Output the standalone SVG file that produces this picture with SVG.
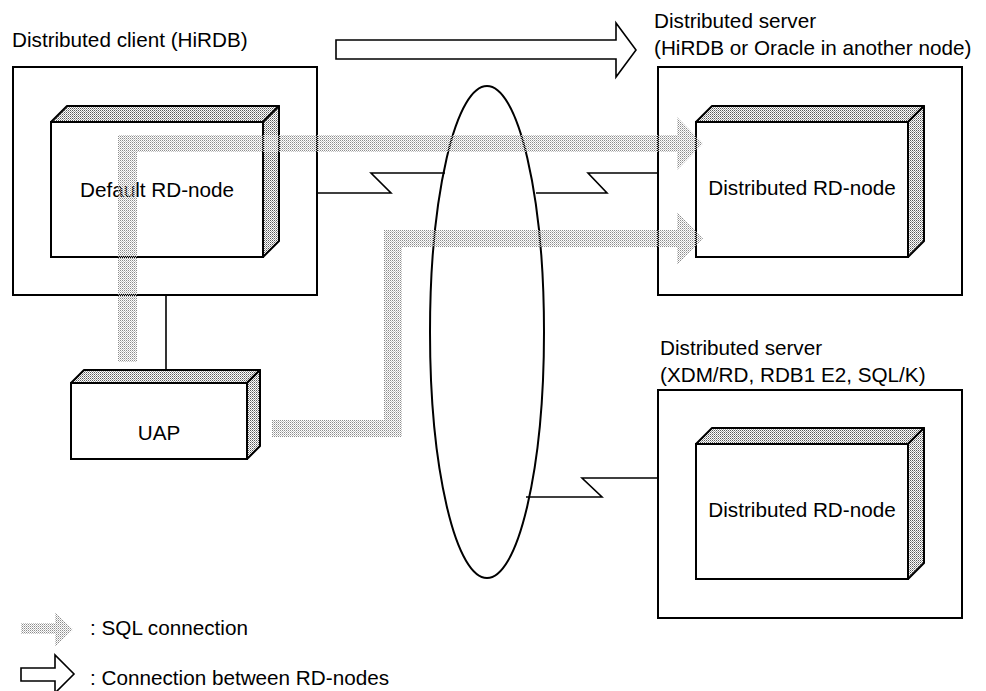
<svg xmlns="http://www.w3.org/2000/svg" width="986" height="691" viewBox="0 0 986 691">
  <defs>
    <!-- stipple used for the SQL connection bands -->
    <pattern id="sqlDots" width="2" height="2" patternUnits="userSpaceOnUse">
      <rect x="0" y="0" width="1" height="1" fill="#8c8c8c"/>
      <rect x="1" y="1" width="1" height="1" fill="#c4c4c4"/>
    </pattern>
    <!-- stipple used for the shaded faces of the 3-D node boxes -->
    <pattern id="faceDots" width="2" height="2" patternUnits="userSpaceOnUse">
      <rect x="0" y="0" width="2" height="2" fill="#ffffff"/>
      <rect x="0" y="0" width="1" height="1" fill="#5a5a5a"/>
      <rect x="1" y="1" width="1" height="1" fill="#a0a0a0"/>
    </pattern>
    <style>
      .frame { fill: #ffffff; stroke: #000000; stroke-width: 2; }
      .front { fill: #ffffff; stroke: #000000; stroke-width: 2; }
      .face { fill: url(#faceDots); stroke: #000000; stroke-width: 2; stroke-linejoin: round; }
      .wire { fill: none; stroke: #000000; stroke-width: 1.6; }
      .net { fill: none; stroke: #000000; stroke-width: 2; }
      .sql { fill: url(#sqlDots); stroke: none; }
      .hollow { fill: #ffffff; stroke: #000000; stroke-width: 1.6; stroke-linejoin: miter; }
      text { font-family: "Liberation Sans", Arial, sans-serif; font-size: 20.7px; fill: #000000; }
      .mid { text-anchor: middle; }
    </style>
  </defs>

  <rect width="986" height="691" fill="#ffffff"/>

  <!-- distributed client frame -->
  <g id="client">
    <text x="12" y="47">Distributed client (HiRDB)</text>
    <rect class="frame" x="13" y="67" width="304" height="228"/>
  </g>

  <!-- default RD-node inside the client -->
  <g id="default-rd-node">
    <polygon class="face" points="51,122 67,106 279,106 263,122"/>
    <polygon class="face" points="263,122 279,106 279,241 263,257"/>
    <rect class="front" x="51" y="122" width="212" height="135"/>
    <text class="mid" x="157" y="197">Default RD-node</text>
  </g>

  <!-- application program -->
  <g id="uap">
    <polygon class="face" points="71,383 84,370 260,370 247,383"/>
    <polygon class="face" points="247,383 260,370 260,446 247,459"/>
    <rect class="front" x="71" y="383" width="176" height="76"/>
    <text class="mid" x="159" y="440">UAP</text>
  </g>

  <!-- network -->
  <g id="network">
    <ellipse class="net" cx="487" cy="332" rx="57" ry="246"/>
  </g>

  <!-- distributed server (HiRDB / Oracle) -->
  <g id="server-hirdb">
    <text x="654" y="28">Distributed server</text>
    <text x="654" y="55">(HiRDB or Oracle in another node)</text>
    <rect class="frame" x="658" y="67" width="304" height="228"/>
  </g>
  <g id="server-hirdb-node">
    <polygon class="face" points="696,122 712,106 924,106 908,122"/>
    <polygon class="face" points="908,122 924,106 924,241 908,257"/>
    <rect class="front" x="696" y="122" width="212" height="135"/>
    <text class="mid" x="802" y="195">Distributed RD-node</text>
  </g>

  <!-- distributed server (XDM/RD, RDB1 E2, SQL/K) -->
  <g id="server-xdm">
    <text x="660" y="355">Distributed server</text>
    <text x="660" y="382">(XDM/RD, RDB1 E2, SQL/K)</text>
    <rect class="frame" x="658" y="390" width="304" height="228"/>
  </g>
  <g id="server-xdm-node">
    <polygon class="face" points="696,444 712,428 924,428 908,444"/>
    <polygon class="face" points="908,444 924,428 924,563 908,579"/>
    <rect class="front" x="696" y="444" width="212" height="135"/>
    <text class="mid" x="802" y="517">Distributed RD-node</text>
  </g>

  <!-- connectors -->
  <g id="connectors">
    <!-- client to UAP -->
    <line class="wire" x1="166" y1="295" x2="166" y2="370"/>
    <!-- communication lines across the network -->
    <polyline class="wire" points="317,193 391,193 371,173 445,173"/>
    <polyline class="wire" points="536,193 607,193 588,173 658,173"/>
    <polyline class="wire" points="526,497 602,497 582,478 658,478"/>

    <!-- SQL connection: UAP through default RD-node to distributed RD-node -->
    <path class="sql" d="M118,362 L118,135 L677,135 L677,117 L703,143.5 L677,170 L677,152 L137,152 L137,362 Z"/>
    <!-- SQL connection: UAP directly to distributed RD-node -->
    <path class="sql" d="M272,420 L384,420 L384,230 L677,230 L677,212 L703,238.5 L677,265 L677,247 L402,247 L402,437 L272,437 Z"/>

    <!-- connection between RD-nodes -->
    <polygon class="hollow" points="336,40 616,40 616,23 636,50 616,77 616,59 336,59"/>
  </g>

  <!-- legend -->
  <g id="legend">
    <path class="sql" d="M21,623 L55,623 L55,612 L73,629.5 L55,647 L55,634 L21,634 Z"/>
    <text x="90" y="635">: SQL connection</text>
    <polygon class="hollow" points="21,668 55,668 55,655 74,674 55,693 55,681 21,681"/>
    <text x="90" y="685">: Connection between RD-nodes</text>
  </g>
</svg>
